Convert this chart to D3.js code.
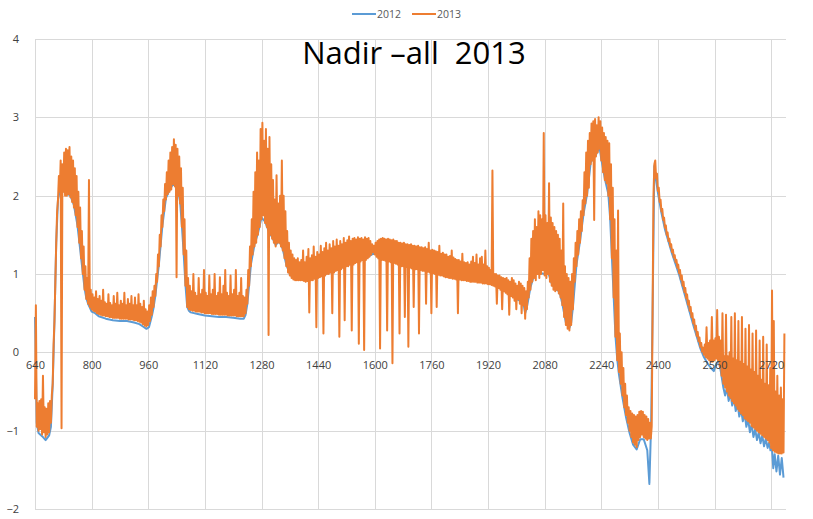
<!DOCTYPE html>
<html>
<head>
<meta charset="utf-8">
<script src="https://cdn.jsdelivr.net/npm/d3@7"></script>
<style>
  html, body { margin: 0; padding: 0; background: #fff; }
  svg { display: block; }
  text { font-family: "Open Sans", "DejaVu Sans", sans-serif; }
</style>
</head>
<body>
<svg id="chart" width="813" height="519"></svg>
<script>
// 2013 spectrum, stored as min/max pairs per 5 nm bin starting at 640 nm
const binStart2013 = 640;
const binWidth2013 = 5;

const low2013 = [
  -0.60, -0.95, -1.00, -0.98, -1.05, -1.02, -1.08, -1.05, -1.02, -0.90,
  -0.40, 0.40, 1.40, 1.95, 2.05, -0.97, 2.05, 2.00, 2.00, 2.02,
  1.98, 1.92, 1.85, 1.75, 1.60, 1.40, 1.20, 1.00, 0.80, 0.68,
  0.62, 0.58, 0.55, 0.53, 0.52, 0.50, 0.49, 0.48, 0.47, 0.47,
  0.46, 0.46, 0.45, 0.45, 0.44, 0.44, 0.44, 0.44, 0.43, 0.43,
  0.43, 0.43, 0.43, 0.42, 0.42, 0.42, 0.41, 0.41, 0.40, 0.39,
  0.38, 0.36, 0.34, 0.33, 0.35, 0.40, 0.48, 0.58, 0.72, 0.90,
  1.10, 1.35, 1.60, 1.80, 1.95, 2.02, 2.05, 2.08, 2.15, 2.12,
  0.96, 2.00, 1.90, 1.60, 1.25, 0.85, 0.58, 0.55, 0.54, 0.53,
  0.53, 0.52, 0.52, 0.52, 0.51, 0.51, 0.50, 0.50, 0.50, 0.50,
  0.49, 0.49, 0.49, 0.49, 0.48, 0.48, 0.48, 0.48, 0.48, 0.47,
  0.47, 0.47, 0.47, 0.47, 0.46, 0.46, 0.46, 0.46, 0.46, 0.50,
  0.62, 0.85, 1.10, 1.25, 1.35, 1.40, 1.50, 1.60, 1.70, 1.75,
  1.65, 1.60, 0.22, 1.50, 1.45, 1.40, 1.35, 1.40, 1.40, 1.35,
  1.30, 1.20, 1.10, 1.02, 0.98, 0.95, 0.93, 0.92, 0.92, 0.92,
  0.92, 0.92, 0.91, 0.90, 0.91, 0.51, 0.92, 0.92, 0.94, 0.32,
  0.95, 0.96, 0.97, 0.24, 0.98, 1.00, 1.00, 1.02, 0.50, 1.02,
  1.04, 1.05, 0.20, 1.06, 1.08, 0.41, 1.10, 1.10, 1.12, 0.28,
  1.12, 1.14, 1.15, 0.11, 1.16, 1.18, 0.03, 1.18, 1.20, 1.22,
  1.25, 1.28, 1.25, 1.22, 1.20, 0.05, 1.18, 1.18, 1.17, 0.28,
  1.16, 1.15, -0.14, 1.14, 1.13, 1.12, 0.24, 1.10, 1.10, 0.45,
  1.09, 0.07, 1.08, 1.07, 0.58, 1.06, 1.06, 0.24, 1.05, 1.04,
  1.04, 0.62, 1.03, 1.02, 0.50, 1.01, 1.00, 0.58, 0.99, 0.98,
  0.98, 0.97, 0.96, 0.96, 0.95, 0.95, 0.94, 0.94, 0.93, 0.50,
  0.93, 0.92, 0.92, 0.92, 0.91, 0.91, 0.90, 0.90, 0.90, 0.90,
  0.89, 0.89, 0.89, 0.88, 0.88, 0.88, 0.87, 0.87, 0.86, 0.85,
  0.84, 0.62, 0.82, 0.80, 0.55, 0.78, 0.76, 0.74, 0.48, 0.72,
  0.70, 0.66, 0.55, 0.68, 0.62, 0.50, 0.60, 0.43, 0.55, 0.70,
  0.80, 0.90, 0.95, 0.92, 1.00, 0.95, 1.00, 1.05, 0.98, 0.95,
  1.00, 0.90, 0.85, 0.80, 0.78, 0.80, 0.75, 0.70, 0.60, 0.45,
  0.35, 0.30, 0.28, 0.35, 0.55, 0.90, 1.10, 1.25, 1.40, 1.55,
  1.75, 1.90, 2.00, 2.10, 2.40, 2.45, 1.69, 2.50, 2.55, 2.60,
  2.45, 2.30, 2.20, 2.16, 2.00, 1.70, 1.20, 0.70, 0.20, -0.10,
  -0.25, -0.40, -0.55, -0.70, -0.80, -0.90, -1.00, -1.08, -1.15, -1.18,
  -1.21, -1.12, -1.08, -1.05, -1.08, -1.10, -1.12, -1.10, -1.10, 0.50,
  2.40, 2.22, 2.06, 1.92, 1.80, 1.69, 1.59, 1.50, 1.42, 1.35,
  1.28, 1.21, 1.15, 1.08, 1.01, 0.93, 0.85, 0.77, 0.69, 0.61,
  0.53, 0.45, 0.37, 0.29, 0.21, 0.14, 0.07, 0.01, -0.03, -0.06,
  -0.08, -0.10, -0.12, -0.12, -0.10, -0.08, -0.10, -0.18, -0.30, -0.40,
  -0.45, -0.50, -0.55, -0.58, -0.62, -0.65, -0.68, -0.72, -0.75, -0.78,
  -0.80, -0.84, -0.86, -0.88, -0.90, -0.94, -0.96, -0.98, -1.00, -1.02,
  -1.04, -1.06, -1.08, -1.10, -1.12, -1.15, -1.22, -1.25, -1.27, -1.28,
  -1.29, -1.29, -1.29, -1.28
];

const high2013 = [
  0.60, -0.65, -0.62, -0.60, -0.30, -0.70, -0.72, -0.65, -0.62, -0.55,
  0.10, 0.90, 1.80, 2.25, 2.45, 2.40, 2.55, 2.60, 2.58, 2.62,
  2.50, 2.45, 2.35, 2.25, 2.05, 1.85, 1.55, 1.35, 1.10, 0.95,
  2.20, 0.80, 0.74, 0.70, 0.78, 0.68, 0.72, 0.66, 0.80, 0.64,
  0.62, 0.74, 0.63, 0.60, 0.72, 0.62, 0.76, 0.60, 0.66, 0.62,
  0.76, 0.60, 0.68, 0.62, 0.72, 0.60, 0.70, 0.60, 0.74, 0.62,
  0.58, 0.66, 0.55, 0.52, 0.60, 0.70, 0.78, 0.85, 1.00, 1.25,
  1.50, 1.75, 1.95, 2.15, 2.30, 2.45, 2.55, 2.62, 2.72, 2.65,
  2.60, 2.50, 2.35, 2.10, 1.70, 1.30, 0.95, 0.85, 0.78, 1.00,
  0.76, 0.72, 0.95, 0.74, 0.80, 1.05, 0.76, 0.72, 0.98, 0.74,
  0.80, 1.00, 0.72, 0.76, 0.96, 0.74, 0.85, 1.05, 0.76, 0.72,
  0.98, 0.74, 0.80, 1.05, 0.72, 0.76, 0.95, 0.72, 0.70, 0.80,
  1.05, 1.35, 1.70, 2.05, 2.30, 2.55, 2.45, 2.85, 2.93, 2.70,
  2.85, 2.60, 2.75, 2.40, 2.20, 1.95, 2.26, 1.90, 2.00, 2.45,
  2.00, 1.80, 1.55, 1.40, 1.30, 1.25, 1.20, 1.18, 1.20, 1.15,
  1.18, 1.30, 1.15, 1.22, 1.32, 1.20, 1.24, 1.35, 1.22, 1.28,
  1.25, 1.36, 1.28, 1.33, 1.40, 1.30, 1.38, 1.33, 1.42, 1.35,
  1.44, 1.36, 1.42, 1.38, 1.46, 1.40, 1.43, 1.48, 1.42, 1.45,
  1.46, 1.44, 1.47, 1.45, 1.46, 1.44, 1.47, 1.45, 1.46, 1.42,
  1.38, 1.36, 1.40, 1.42, 1.44, 1.45, 1.46, 1.45, 1.44, 1.45,
  1.44, 1.43, 1.44, 1.42, 1.42, 1.40, 1.40, 1.39, 1.40, 1.38,
  1.38, 1.37, 1.38, 1.36, 1.36, 1.35, 1.36, 1.34, 1.34, 1.33,
  1.34, 1.32, 1.40, 1.30, 1.31, 1.30, 1.29, 1.28, 1.36, 1.26,
  1.27, 1.25, 1.25, 1.22, 1.23, 1.30, 1.21, 1.19, 1.18, 1.18,
  1.16, 1.26, 1.15, 1.14, 1.15, 1.12, 1.16, 1.22, 1.14, 1.25,
  1.12, 1.20, 1.22, 1.12, 1.30, 1.10, 1.08, 1.05, 2.32, 1.00,
  1.00, 0.98, 0.98, 0.96, 0.95, 0.94, 0.95, 0.92, 0.90, 0.95,
  0.92, 0.88, 0.85, 0.90, 0.88, 0.85, 0.82, 0.78, 0.90, 1.20,
  1.45, 1.55, 1.70, 1.60, 1.80, 1.75, 1.70, 2.80, 1.75, 1.65,
  2.16, 1.72, 1.65, 1.60, 1.55, 1.50, 1.45, 1.30, 1.90, 1.10,
  1.00, 0.95, 0.90, 1.00, 1.20, 1.40, 1.55, 1.70, 1.80, 1.94,
  2.30, 2.55, 2.70, 2.80, 2.92, 2.95, 2.98, 2.90, 3.00, 2.95,
  2.87, 2.80, 2.75, 2.70, 2.67, 2.40, 2.10, 1.70, 1.30, 1.81,
  0.24, 0.00, -0.20, -0.40, -0.55, -0.70, -0.75, -0.78, -0.80, -0.82,
  -0.80, -0.76, -0.75, -0.76, -0.80, -0.82, -0.85, -0.90, -0.95, 2.00,
  2.45, 2.28, 2.10, 1.95, 1.83, 1.72, 1.62, 1.53, 1.45, 1.38,
  1.31, 1.24, 1.18, 1.12, 1.05, 0.98, 0.90, 0.82, 0.74, 0.66,
  0.58, 0.50, 0.42, 0.34, 0.26, 0.19, 0.12, 0.06, 0.10, 0.32,
  0.12, 0.15, 0.45, 0.15, 0.18, 0.54, 0.20, 0.15, 0.50, -0.05,
  0.48, -0.05, 0.00, 0.45, -0.08, 0.50, -0.10, 0.40, -0.12, 0.45,
  -0.15, 0.30, -0.18, 0.35, -0.22, 0.24, -0.25, 0.28, -0.30, 0.15,
  -0.35, 0.20, -0.40, 0.10, -0.42, -0.20, 0.79, 0.40, -0.50, -0.30,
  -0.55, -0.45, -0.60, 0.24
];

// 2012 spectrum as [wavelength, value] pairs
const series2012 = [
  [640, 0.45], [645, -0.90], [650, -1.03], [660, -1.07], [670, -1.12], [680, -1.06],
  [685, -0.95], [690, -0.42], [695, 0.40], [700, 1.40], [705, 1.95], [710, 2.06],
  [720, 2.06], [730, 2.03], [740, 2.00], [750, 1.88], [760, 1.62], [770, 1.22],
  [780, 0.82], [785, 0.69], [790, 0.62], [795, 0.57], [800, 0.52], [810, 0.50],
  [820, 0.46], [840, 0.43], [860, 0.41], [880, 0.40], [900, 0.40], [920, 0.38],
  [935, 0.36], [945, 0.33], [955, 0.30], [962, 0.32], [970, 0.46], [975, 0.57],
  [980, 0.72], [990, 1.12], [1000, 1.62], [1010, 1.97], [1020, 2.07], [1030, 2.15],
  [1035, 2.13], [1045, 2.05], [1050, 1.92], [1055, 1.62], [1060, 1.27], [1065, 0.87],
  [1070, 0.58], [1075, 0.53], [1080, 0.51], [1100, 0.49], [1120, 0.47], [1140, 0.46],
  [1160, 0.45], [1180, 0.45], [1200, 0.44], [1220, 0.43], [1230, 0.43], [1235, 0.48],
  [1240, 0.62], [1245, 0.86], [1250, 1.12], [1260, 1.37], [1270, 1.52], [1280, 1.72],
  [1290, 1.67], [1300, 1.55], [1310, 1.47], [1320, 1.37], [1330, 1.42], [1340, 1.32],
  [1350, 1.12], [1360, 1.00], [1370, 0.95], [1380, 0.94], [1400, 0.93], [1420, 0.94],
  [1440, 0.97], [1460, 1.00], [1480, 1.03], [1500, 1.07], [1520, 1.11], [1540, 1.14],
  [1560, 1.18], [1580, 1.22], [1600, 1.27], [1620, 1.20], [1640, 1.18], [1660, 1.15],
  [1680, 1.12], [1700, 1.10], [1720, 1.08], [1740, 1.06], [1760, 1.03], [1780, 1.01],
  [1800, 0.98], [1820, 0.96], [1840, 0.95], [1860, 0.93], [1880, 0.92], [1900, 0.91],
  [1920, 0.89], [1940, 0.86], [1960, 0.82], [1980, 0.76], [2000, 0.68], [2010, 0.66],
  [2020, 0.63], [2025, 0.50], [2030, 0.58], [2040, 0.83], [2050, 0.98], [2060, 1.02],
  [2080, 1.00], [2090, 1.02], [2100, 0.88], [2110, 0.81], [2120, 0.78], [2125, 0.72],
  [2130, 0.62], [2140, 0.38], [2150, 0.31], [2155, 0.38], [2160, 0.58], [2170, 1.12],
  [2180, 1.42], [2190, 1.77], [2200, 2.02], [2210, 2.42], [2215, 2.47], [2225, 2.52],
  [2235, 2.62], [2240, 2.47], [2250, 2.22], [2260, 2.02], [2265, 1.72], [2270, 1.22],
  [2275, 0.72], [2280, 0.22], [2285, -0.08], [2290, -0.28], [2300, -0.58], [2310, -0.83],
  [2320, -1.03], [2330, -1.18], [2340, -1.24], [2350, -1.11], [2360, -1.11], [2370, -1.25],
  [2376, -1.68], [2381, -0.90], [2385, 0.50], [2390, 2.38], [2395, 2.20], [2400, 2.04],
  [2410, 1.78], [2420, 1.57], [2440, 1.26], [2460, 0.99], [2480, 0.67], [2500, 0.35],
  [2520, 0.05], [2530, -0.06], [2540, -0.14], [2550, -0.20], [2558, -0.24], [2565, -0.15],
  [2572, -0.10], [2578, -0.25], [2585, -0.45], [2590, -0.55], [2595, -0.45], [2600, -0.62],
  [2605, -0.52], [2610, -0.68], [2615, -0.58], [2620, -0.75], [2625, -0.65], [2630, -0.82],
  [2635, -0.72], [2640, -0.88], [2645, -0.78], [2650, -0.95], [2655, -0.85], [2660, -1.02],
  [2665, -0.92], [2670, -1.08], [2675, -0.98], [2680, -1.12], [2685, -1.02], [2690, -1.16],
  [2695, -1.06], [2700, -1.20], [2705, -1.10], [2710, -1.22], [2715, -1.15], [2718, -1.25],
  [2722, -1.20], [2726, -1.48], [2730, -1.30], [2735, -1.52], [2740, -1.32], [2745, -1.56],
  [2750, -1.35], [2755, -1.60]
];

// Axis ticks
const xTicks = [640, 800, 960, 1120, 1280, 1440, 1600, 1760, 1920, 2080, 2240, 2400, 2560, 2720];
const yTicks = [-2, -1, 0, 1, 2, 3, 4];

const seriesNames = ["2012", "2013"];
const seriesColors = ["#5B9BD5", "#ED7D31"];
const titleText = "Nadir \u2013all  2013";

const svg = d3.select("#chart");

const x = d3.scaleLinear().domain([640, 2762]).range([35, 786]);
const y = d3.scaleLinear().domain([-2, 4]).range([509, 39]);

// Gridlines
const grid = svg.append("g").attr("class", "grid");
grid.selectAll("line.h")
  .data(yTicks)
  .join("line")
  .attr("class", "h")
  .attr("x1", x.range()[0]).attr("x2", x.range()[1])
  .attr("y1", d => Math.round(y(d)) + 0.5).attr("y2", d => Math.round(y(d)) + 0.5)
  .attr("stroke", "#d9d9d9").attr("stroke-width", 1);
grid.selectAll("line.v")
  .data(xTicks)
  .join("line")
  .attr("class", "v")
  .attr("x1", d => Math.round(x(d)) + 0.5).attr("x2", d => Math.round(x(d)) + 0.5)
  .attr("y1", y(4)).attr("y2", y(-2))
  .attr("stroke", "#d9d9d9").attr("stroke-width", 1);

// Y axis labels on the left
const yAxis = d3.axisLeft(y).tickValues(yTicks).tickSize(0).tickPadding(0).tickFormat(d3.format("d"));
const yg = svg.append("g").attr("transform", "translate(19,0)").call(yAxis);
yg.select(".domain").remove();
yg.selectAll("text")
  .attr("font-family", "'Open Sans', sans-serif")
  .attr("font-size", 11)
  .attr("fill", "#404040");

// Series lines
const line = d3.line().x(d => x(d[0])).y(d => y(d[1]));

// each bin contributes its minimum then its maximum, half a bin apart
const points2013 = [];
low2013.forEach((lo, i) => {
  const w = binStart2013 + i * binWidth2013;
  points2013.push([w, lo]);
  points2013.push([w + binWidth2013 / 2, high2013[i]]);
});

svg.append("path")
  .datum(series2012)
  .attr("fill", "none")
  .attr("stroke", seriesColors[0])
  .attr("stroke-width", 2)
  .attr("stroke-linejoin", "round")
  .attr("d", line);

svg.append("path")
  .datum(points2013)
  .attr("fill", "none")
  .attr("stroke", seriesColors[1])
  .attr("stroke-width", 2)
  .attr("stroke-linejoin", "round")
  .attr("d", line);

// X axis labels sitting on the zero line
const xAxis = d3.axisBottom(x).tickValues(xTicks).tickSize(0).tickPadding(0).tickFormat(d3.format("d"));
const xg = svg.append("g").attr("transform", `translate(0,${y(0) + 9})`).call(xAxis);
xg.select(".domain").remove();
xg.selectAll("text")
  .attr("font-family", "'Open Sans', sans-serif")
  .attr("font-size", 11)
  .attr("fill", "#404040");

// Title
svg.append("text")
  .attr("x", 414).attr("y", 64)
  .attr("text-anchor", "middle")
  .attr("font-size", 31)
  .attr("fill", "#000")
  .style("white-space", "pre")
  .text(titleText);

// Legend
const legendItems = [{ x: 352 }, { x: 412 }];
const lg = svg.append("g").attr("class", "legend");
seriesNames.forEach((name, i) => {
  const lx = legendItems[i].x;
  lg.append("line")
    .attr("x1", lx).attr("x2", lx + 24)
    .attr("y1", 14).attr("y2", 14)
    .attr("stroke", seriesColors[i]).attr("stroke-width", 2);
  lg.append("text")
    .attr("x", lx + 25).attr("y", 18)
    .attr("font-size", 10.5)
    .attr("fill", "#595959")
    .text(name);
});
</script>
</body>
</html>
